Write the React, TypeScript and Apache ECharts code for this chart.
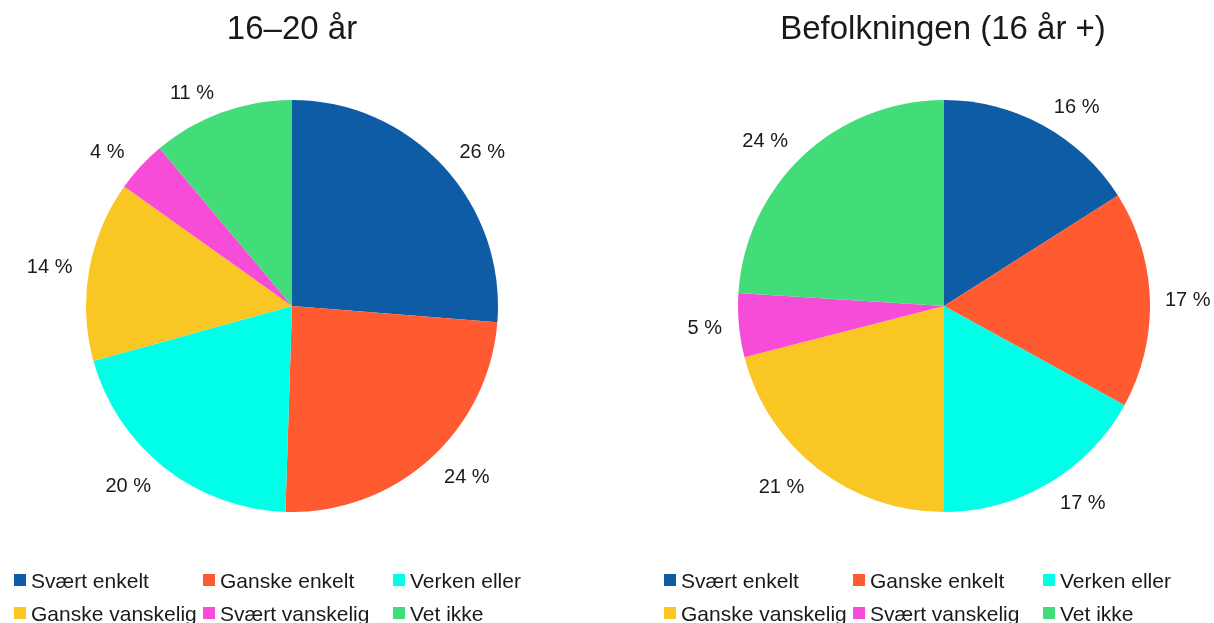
import React, { useEffect, useRef } from "react";
import * as echarts from "echarts";

const categories = ["Svært enkelt", "Ganske enkelt", "Verken eller", "Ganske vanskelig", "Svært vanskelig", "Vet ikke"];
const colors = ["#0E5CA6", "#FF5A30", "#00FFE6", "#F9C623", "#F74CD8", "#42DC78"];
const youthValues = [26, 24, 20, 14, 4, 11];
const populationValues = [16, 17, 17, 21, 5, 24];
const titles = ["16–20 år", "Befolkningen (16 år +)"];

const FONT = "'Liberation Sans', Arial, sans-serif";
const CENTERS = [292, 944];
const CY = 306;

export default function App() {
  const ref = useRef<HTMLDivElement>(null);
  useEffect(() => {
    if (!ref.current) return;
    const chart = echarts.init(ref.current, undefined, { renderer: "svg" });
    const pie = (values: number[], cx: number) => ({
      type: "pie",
      center: [cx, CY],
      radius: 206,
      startAngle: 90,
      clockwise: true,
      avoidLabelOverlap: false,
      data: categories.map((name, i) => ({ name, value: values[i], itemStyle: { color: colors[i] } })),
      label: {
        show: true,
        position: "outside",
        formatter: "{c} %",
        fontFamily: FONT,
        fontSize: 20,
        color: "#1a1a1a",
        overflow: "none",
        distanceToLabelLine: 0,
      },
      labelLine: { show: false, length: 22, length2: 0 },
      // labels that sit beside the pie (not above/below) are pulled slightly inward
      labelLayout: (params: any) => {
        const r = params.labelRect;
        const cx = CENTERS[params.seriesIndex];
        const midY = r.y + r.height / 2;
        if (Math.abs(midY - CY) < 60) {
          const rightSide = r.x + r.width / 2 > cx;
          return { dx: rightSide ? -7 : 5 };
        }
        return {};
      },
      emphasis: { disabled: true },
    });
    const colX = [[14, 203, 393], [664, 853, 1043]];
    const rowY = [569, 602];
    const legends: any[] = [];
    colX.forEach((xs) => {
      categories.forEach((name, i) => {
        legends.push({
          orient: "horizontal",
          icon: "rect",
          itemWidth: 12,
          itemHeight: 12,
          itemGap: 0,
          padding: 0,
          selectedMode: false,
          left: xs[i % 3],
          top: rowY[Math.floor(i / 3)],
          data: [{ name, itemStyle: { color: colors[i] } }],
          textStyle: { fontFamily: FONT, fontSize: 21, lineHeight: 22, color: "#1a1a1a", padding: [0, 0, 0, 0] },
        });
      });
    });
    const titleStyle = { fontFamily: FONT, fontSize: 33, fontWeight: "normal", color: "#1a1a1a" };
    chart.setOption({
      animation: false,
      title: [
        { text: titles[0], left: 292, top: 11, padding: 0, textAlign: "center", textStyle: titleStyle },
        { text: titles[1], left: 943, top: 11, padding: 0, textAlign: "center", textStyle: titleStyle },
      ],
      legend: legends,
      series: [pie(youthValues, CENTERS[0]), pie(populationValues, CENTERS[1])],
    });
    return () => chart.dispose();
  }, []);
  return <div ref={ref} style={{ position: "fixed", left: 0, top: 0, width: 1214, height: 623 }} />;
}
